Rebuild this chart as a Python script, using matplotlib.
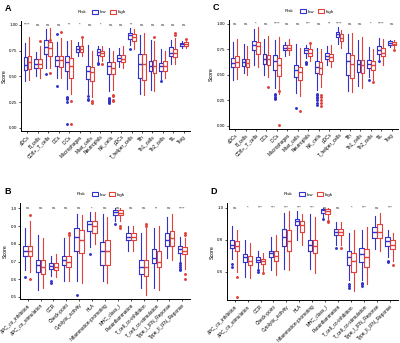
import matplotlib.pyplot as plt
from matplotlib.patches import Patch
import numpy as np

plt.rcParams['font.family'] = ['Liberation Sans', 'DejaVu Sans']

# ---- categories
immune = ['aDCs', 'B_cells', 'CD8+_T_cells', 'DCs', 'iDCs', 'Macrophages',
          'Mast_cells', 'Neutrophils', 'NK_cells', 'pDCs', 'T_helper_cells',
          'Tfh', 'Th1_cells', 'Th2_cells', 'TIL', 'Treg']
func = ['APC_co_inhibition', 'APC_co_stimulation', 'CCR', 'Check-point',
        'Cytolytic_activity', 'HLA', 'Inflammation-promoting', 'MHC_class_I',
        'Parainflammation', 'T_cell_co-inhibition', 'T_cell_co-stimulation',
        'Type_I_IFN_Reponse', 'Type_II_IFN_Reponse']

# ---- box stats: [whislo, q1, med, q3, whishi]
A_low = [[.45, .56, .61, .69, .82], [.50, .58, .62, .67, .74], [.58, .72, .78, .85, .96],
         [.48, .60, .66, .70, .83], [.38, .55, .64, .70, .84], [.70, .74, .76, .79, .83],
         [.33, .47, .55, .60, .80], [.65, .71, .74, .76, .79], [.36, .52, .60, .64, .77],
         [.59, .65, .68, .71, .77], [.80, .86, .90, .92, .97], [.33, .48, .62, .72, .90],
         [.37, .55, .60, .65, .85], [.47, .55, .60, .63, .76], [.62, .70, .73, .78, .85],
         [.77, .79, .81, .82, .84]]
A_high = [[.46, .57, .64, .70, .88], [.48, .58, .62, .67, .79], [.58, .70, .77, .83, .97],
          [.48, .59, .66, .70, .87], [.33, .48, .60, .68, .85], [.70, .74, .76, .79, .86],
          [.30, .45, .54, .59, .75], [.65, .70, .73, .75, .79], [.37, .52, .58, .64, .75],
          [.58, .64, .67, .71, .79], [.76, .84, .88, .91, .96], [.32, .46, .62, .72, .92],
          [.36, .53, .60, .66, .84], [.48, .55, .60, .65, .75], [.62, .69, .73, .76, .87],
          [.77, .79, .81, .83, .84]]
A_low_out = [[], [], [.52], [.91, .41], [.30, .29, .28, .25, .04], [], [.31, .28, .27],
             [.63, .62], [.29, .28, .27, .26, .25, .24], [], [.76], [], [], [.45], [], []]
A_high_out = [[], [.84], [.53, .85], [.93], [.26, .04], [.88], [.24, .26], [.62],
              [.32, .31, .27, .26], [], [], [], [.88], [], [.90, .92], [.86]]
A_sig = ['****', 'ns', 'ns', 'ns', '**', '*', 'ns', '*', 'ns', 'ns', '**',
         'ns', 'ns', 'ns', 'ns', 'ns']

C_low = [[.45, .58, .62, .67, .82], [.52, .59, .63, .66, .80], [.60, .74, .79, .83, .95],
         [.50, .61, .66, .71, .85], [.37, .55, .64, .70, .84], [.69, .74, .76, .79, .82],
         [.32, .48, .55, .60, .80], [.67, .72, .74, .76, .79], [.35, .52, .58, .64, .76],
         [.60, .66, .69, .72, .78], [.80, .87, .90, .92, .97], [.34, .50, .64, .72, .90],
         [.39, .53, .61, .65, .84], [.48, .57, .61, .65, .77], [.63, .71, .74, .78, .86],
         [.77, .79, .81, .83, .84]]
C_high = [[.46, .58, .63, .69, .85], [.50, .58, .62, .66, .78], [.58, .71, .78, .82, .97],
          [.48, .60, .66, .70, .88], [.31, .49, .60, .67, .87], [.70, .74, .76, .79, .85],
          [.29, .45, .53, .58, .76], [.64, .69, .72, .75, .80], [.38, .51, .57, .63, .75],
          [.58, .64, .68, .71, .79], [.76, .83, .86, .90, .94], [.33, .47, .61, .70, .91],
          [.37, .52, .60, .65, .87], [.45, .55, .60, .64, .75], [.60, .69, .72, .76, .85],
          [.76, .79, .80, .82, .84]]
C_low_out = [[], [], [], [], [.31, .30, .28, .27, .26], [], [.18], [.63, .62, .61],
             [.31, .30, .28, .27, .25, .22, .21], [], [], [], [], [.45], [.64], []]
C_high_out = [[], [], [], [.38], [.34, .01], [], [.15], [.81],
              [.30, .28, .25, .22, .20], [], [], [], [], [.43], [], [.74]]
C_sig = ['ns', 'ns', '*', 'ns', '****', 'ns', 'ns', '***', 'ns', '**', '****',
         'ns', 'ns', '*', '****', 'ns']

B_low = [[.655, .73, .76, .79, .89], [.54, .64, .68, .71, .85], [.62, .66, .675, .69, .73],
         [.59, .68, .71, .73, .83], [.59, .76, .84, .89, .97], [.78, .87, .91, .93, .98],
         [.59, .68, .76, .81, .97], [.93, .965, .98, .99, 1.0], [.76, .82, .84, .86, .90],
         [.55, .63, .67, .71, .86], [.55, .69, .72, .77, .89], [.72, .79, .82, .86, .95],
         [.70, .75, .77, .79, .84]]
B_high = [[.64, .73, .76, .79, .93], [.55, .63, .67, .71, .83], [.61, .65, .67, .69, .74],
          [.59, .67, .70, .73, .84], [.58, .75, .82, .88, .96], [.80, .86, .90, .93, .98],
          [.58, .68, .76, .82, .95], [.93, .96, .975, .99, 1.0], [.76, .82, .84, .86, .90],
          [.51, .62, .67, .71, .89], [.54, .67, .70, .76, .90], [.71, .79, .83, .87, .97],
          [.66, .74, .76, .78, .83]]
B_low_out = [[.61], [], [.59, .58], [], [.51], [.74], [], [.91], [], [], [], [],
             [.69, .68, .67, .66, .65]]
B_high_out = [[.96, .60], [], [], [.85, .86], [], [], [], [.90, .89], [], [.91, .90],
              [], [], [.85, .86, .63, .60]]
B_sig = ['ns', 'ns', 'ns', 'ns', 'ns', '*', 'ns', 'ns', 'ns', 'ns', '**', 'ns', '****']

D_low = [[.68, .75, .77, .80, .885], [.57, .66, .69, .71, .80], [.62, .66, .675, .69, .73],
         [.61, .69, .72, .73, .82], [.62, .76, .82, .87, .97], [.80, .89, .915, .93, .98],
         [.62, .73, .77, .80, .96], [.94, .97, .985, .99, 1.0], [.77, .83, .85, .87, .91],
         [.55, .64, .69, .73, .84], [.55, .66, .71, .75, .86], [.74, .81, .85, .88, .95],
         [.69, .76, .79, .82, .86]]
D_high = [[.60, .73, .76, .79, .86], [.56, .64, .67, .70, .78], [.60, .65, .665, .68, .72],
          [.58, .67, .70, .73, .83], [.61, .73, .79, .86, .98], [.77, .85, .89, .92, .96],
          [.59, .72, .76, .80, .94], [.93, .96, .98, .99, 1.0], [.77, .83, .85, .87, .91],
          [.48, .60, .67, .72, .86], [.52, .63, .69, .74, .88], [.73, .81, .85, .90, .97],
          [.67, .74, .77, .80, .84]]
D_low_out = [[.65, .63], [], [.61, .60], [], [], [], [], [.93], [.75],
             [.52, .51, .50], [.53, .52, .51], [], [.67, .66]]
D_high_out = [[.57, .44], [], [.59], [], [], [], [], [.92, .91], [.75], [], [],
              [], [.64]]
D_sig = ['ns', '*', '***', '***', '***', '***', '***', 'ns', 'ns', '*', '***', 'ns', '***']

blue = '#3333CC'
red = '#E2403A'


def stats(rows, outs):
    res = []
    for r, o in zip(rows, outs):
        res.append({'whislo': r[0], 'q1': r[1], 'med': r[2], 'q3': r[3],
                    'whishi': r[4], 'fliers': o})
    return res


def panel(rect, cats, low, high, low_out, high_out, sig, ylim, yticks, fmt,
          letter, sigy):
    ax = fig.add_axes(rect)
    x = np.arange(len(cats))
    for st, pos, col in [(stats(low, low_out), x - 0.19, blue),
                         (stats(high, high_out), x + 0.19, red)]:
        ax.bxp(st, positions=pos, widths=0.36, showcaps=False,
               boxprops=dict(color=col, linewidth=0.8),
               whiskerprops=dict(color=col, linewidth=0.8),
               medianprops=dict(color=col, linewidth=1.0),
               flierprops=dict(marker='o', markersize=1.1, markerfacecolor=col,
                               markeredgecolor=col, linestyle='none'))
    for i, s in enumerate(sig):
        ax.text(x[i], sigy, s, ha='center', va='center', fontsize=3,
                color='#333333')
    ax.set_xlim(-0.6, len(cats) - 0.4)
    ax.set_ylim(*ylim)
    ax.set_yticks(yticks)
    ax.set_yticklabels([fmt % v for v in yticks], fontsize=3.2)
    ax.set_xticks(x)
    ax.set_xticklabels(cats, rotation=45, ha='right', rotation_mode='anchor',
                       fontsize=3.4)
    ax.set_ylabel('Score', fontsize=3.8, labelpad=2)
    ax.tick_params(length=1.5, width=0.5, pad=1)
    for sp in ['top', 'right']:
        ax.spines[sp].set_visible(False)
    for sp in ['left', 'bottom']:
        ax.spines[sp].set_linewidth(0.7)
    fig.text(rect[0] - 0.04, rect[1] + rect[3] + 0.035, letter,
             fontsize=6.5, fontweight='bold', va='center')
    # legend on top
    cx = rect[0] + rect[2] * 0.52
    cy = rect[1] + rect[3] + 0.025
    fig.text(cx - 0.058, cy, 'Risk', fontsize=3.2, ha='right', va='center')
    fig.legend([Patch(facecolor='white', edgecolor=blue, linewidth=0.8),
                Patch(facecolor='white', edgecolor=red, linewidth=0.8)],
               ['low', 'high'], ncol=2, loc='center', bbox_to_anchor=(cx, cy),
               fontsize=3.2, frameon=False, handlelength=1.3, handleheight=1.1,
               columnspacing=0.8, handletextpad=0.4)
    return ax


fig = plt.figure(figsize=(4.0, 3.43), dpi=100)
panel([0.053, 0.618, 0.422, 0.322], immune, A_low, A_high, A_low_out, A_high_out,
      A_sig, (-0.03, 1.04), [0, .25, .5, .75, 1.0], '%.2f', 'A', 1.0)
panel([0.572, 0.624, 0.423, 0.318], immune, C_low, C_high, C_low_out, C_high_out,
      C_sig, (-0.03, 1.04), [0, .25, .5, .75, 1.0], '%.2f', 'C', 1.0)
panel([0.050, 0.128, 0.425, 0.280], func, B_low, B_high, B_low_out, B_high_out,
      B_sig, (0.488, 1.03), [.5, .6, .7, .8, .9, 1.0], '%.1f', 'B', 1.0)
panel([0.567, 0.124, 0.428, 0.284], func, D_low, D_high, D_low_out, D_high_out,
      D_sig, (0.42, 1.03), [.6, .8, 1.0], '%.1f', 'D', 1.0)

fig.savefig('out.png', dpi=100)
